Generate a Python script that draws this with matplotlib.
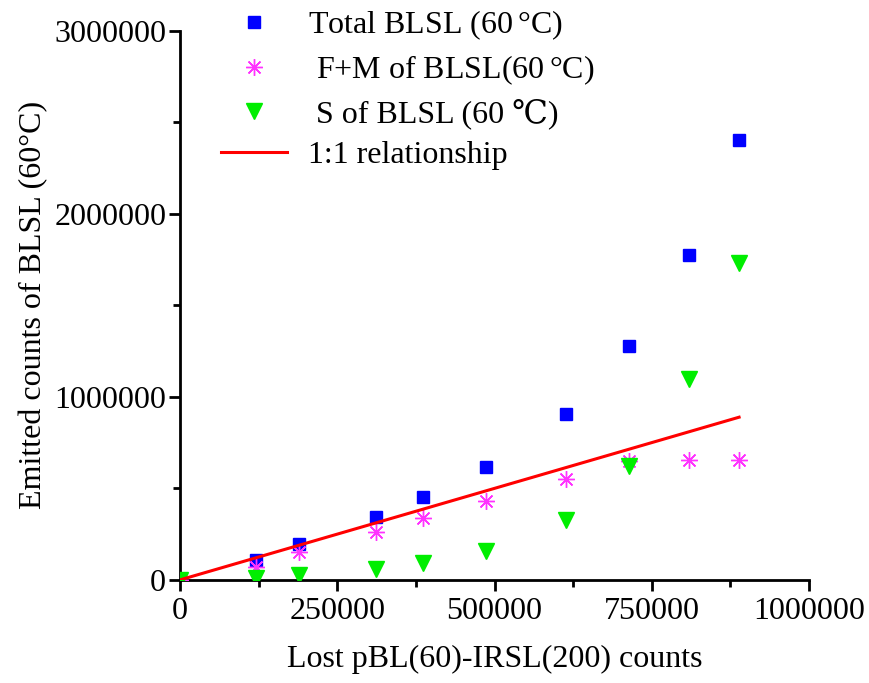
import matplotlib.pyplot as plt
from matplotlib.ticker import MultipleLocator, FormatStrFormatter

plt.rcParams['font.family'] = ['Liberation Serif', 'DejaVu Serif']

# lost pBL(60)-IRSL(200) counts
lost = [0, 120800, 189200, 311600, 386300, 486500, 613700, 713800, 809200, 888700]
# emitted BLSL counts at 60 C
total = [0, 109000, 197000, 344000, 454000, 617000, 907000, 1279000, 1776000, 2404000]
fast_medium = [0, 71000, 153000, 262000, 339000, 432000, 552000, 650000, 656000, 656000]
slow = [0, 11000, 27000, 60000, 93000, 158000, 328000, 623000, 1098000, 1732000]

fig = plt.figure(figsize=(8.7, 6.83), dpi=100)
ax = fig.add_axes([0.207, 0.151, 0.723, 0.804])

ax.plot(lost, total, 's', color='#0000ff', markersize=8, label='Total BLSL (60$\\,$\u00b0C)', zorder=3)
ax.plot(lost, fast_medium, marker=(8, 2, 0), linestyle='none', color='#ff33ff',
        markersize=12, markeredgewidth=1.0, label=' F+M of BLSL(60$\\,$\u00b0C)', zorder=3)
ax.plot(lost, slow, 'v', color='#00ee00', markersize=11, label=' S of BLSL (60 \u2103)', zorder=3)
ax.plot([0, lost[-1]], [0, lost[-1]], '-', color='#ff0000', linewidth=2.2, label='1:1 relationship', zorder=4)

ax.set_xlim(0, 1000000)
ax.set_ylim(0, 3000000)
ax.xaxis.set_major_locator(MultipleLocator(250000))
ax.xaxis.set_minor_locator(MultipleLocator(125000))
ax.yaxis.set_major_locator(MultipleLocator(1000000))
ax.yaxis.set_minor_locator(MultipleLocator(500000))
ax.xaxis.set_major_formatter(FormatStrFormatter('%d'))
ax.yaxis.set_major_formatter(FormatStrFormatter('%d'))

for side in ['top', 'right']:
    ax.spines[side].set_visible(False)
for side in ['left', 'bottom']:
    ax.spines[side].set_linewidth(2)

ax.tick_params(which='major', direction='out', length=8, width=2, labelsize=23, colors='black')
ax.tick_params(which='minor', direction='out', length=5, width=2)
ax.tick_params(axis='x', which='major', pad=4)
ax.tick_params(axis='y', which='major', pad=2)

ax.set_xlabel('Lost pBL(60)-IRSL(200) counts', fontsize=23, labelpad=14)
ax.set_ylabel('Emitted counts of BLSL (60\u00b0C)', fontsize=23, labelpad=4)

ax.legend(loc='upper left', bbox_to_anchor=(0.02, 1.093), frameon=False, fontsize=23,
          handlelength=2.05, handletextpad=0.65, labelspacing=0.36, markerscale=1.0)

fig.savefig('out.png', dpi=100)
